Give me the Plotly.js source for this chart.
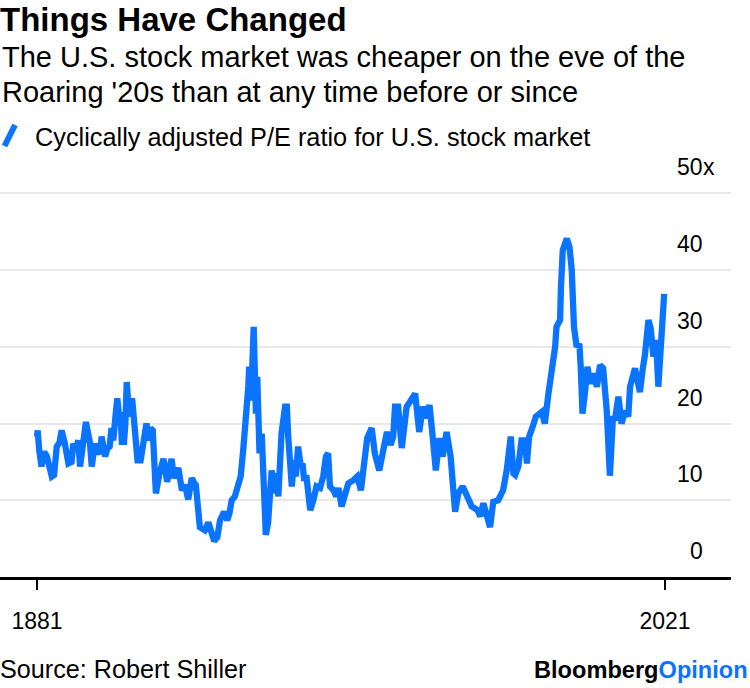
<!DOCTYPE html>
<html>
<head>
<meta charset="utf-8">
<script src="https://cdn.plot.ly/plotly-3.0.1.min.js"></script>
<style>
  html, body { margin: 0; padding: 0; background: #fff; }
  #chart { width: 750px; height: 688px; }
</style>
</head>
<body>
<div id="chart"></div>
<script>
// ---- Data ----
const years = [
  1881.0, 1881.15, 1881.5, 1882.0, 1882.3, 1882.6, 1883.2, 1883.7, 1884.3, 1884.8,
  1885.4, 1886.0, 1886.5, 1887.2, 1887.6, 1888.0, 1888.7, 1889.1, 1889.6, 1890.2,
  1890.6, 1891.3, 1891.9, 1892.4, 1892.8, 1893.2, 1893.9, 1894.3, 1894.7, 1895.0,
  1895.4, 1895.8, 1896.2, 1896.7, 1897.2, 1897.6, 1898.0, 1898.5, 1898.9, 1899.3,
  1899.6, 1899.9, 1900.4, 1900.7, 1901.0, 1901.3, 1901.6, 1902.2, 1902.8, 1903.4,
  1904.1, 1904.7, 1905.4, 1906.0, 1906.3, 1906.8, 1907.5, 1908.3, 1909.2, 1910.0,
  1911.0, 1911.5, 1912.0, 1912.5, 1913.3, 1914.0, 1914.7, 1915.5, 1916.0, 1916.4,
  1917.3, 1918.4, 1919.2, 1919.6, 1920.0, 1920.5, 1921.2, 1921.8, 1922.7, 1923.4,
  1923.9, 1924.4, 1925.1, 1925.6, 1926.0, 1926.4, 1927.0, 1927.7, 1928.1, 1928.3,
  1928.6, 1928.9, 1929.3, 1929.5, 1929.8, 1930.1, 1930.6, 1931.1, 1931.5, 1932.0,
  1932.5, 1932.9, 1933.3, 1933.8, 1934.3, 1934.8, 1935.2, 1935.5, 1936.3, 1936.7,
  1937.0, 1937.8, 1938.3, 1938.7, 1939.2, 1939.8, 1940.2, 1940.5, 1941.1, 1941.9,
  1942.6, 1943.3, 1944.1, 1944.8, 1945.4, 1945.9, 1946.3, 1947.1, 1947.7, 1948.2,
  1948.9, 1949.7, 1950.4, 1951.5, 1952.4, 1953.2, 1953.9, 1954.6, 1955.6, 1956.3,
  1957.3, 1958.1, 1959.0, 1959.8, 1960.4, 1960.8, 1961.5, 1962.3, 1963.4, 1964.1,
  1965.3, 1966.2, 1967.0, 1967.7, 1968.5, 1969.2, 1969.9, 1970.7, 1971.4, 1972.3,
  1973.2, 1974.2, 1974.9, 1975.9, 1976.8, 1977.9, 1979.2, 1979.8, 1980.5, 1981.2,
  1982.0, 1982.7, 1983.8, 1984.9, 1985.7, 1986.6, 1987.2, 1987.6, 1988.3, 1989.0,
  1989.8, 1990.2, 1990.7, 1991.5, 1992.2, 1993.5, 1994.2, 1995.0, 1995.5, 1996.2,
  1996.5, 1996.8, 1997.6, 1997.8, 1998.2, 1999.1, 1999.7, 2000.2, 2000.7, 2001.3,
  2001.9, 2002.2, 2002.6, 2003.2, 2003.7, 2004.3, 2005.0, 2005.8, 2006.5, 2007.2,
  2008.0, 2008.7, 2009.4, 2009.8, 2010.6, 2011.3, 2012.1, 2012.8, 2013.2, 2014.3,
  2014.8, 2015.4, 2016.0, 2016.5, 2017.3, 2017.8, 2018.4, 2019.0, 2019.5, 2019.9,
  2020.3, 2020.8
];
const cape = [
  18.3, 19.1, 16.5, 14.4, 15.8, 16.3, 15.7, 14.5, 13.1, 13.3,
  17.0, 17.5, 19.1, 17.4, 16.0, 14.8, 15.0, 17.4, 16.5, 17.8,
  14.4, 17.4, 20.2, 18.7, 17.5, 14.4, 17.4, 16.0, 16.5, 16.0,
  18.3, 17.0, 15.7, 16.8, 17.0, 19.4, 17.8, 21.0, 23.3, 20.9,
  21.5, 17.6, 17.6, 20.0, 25.4, 23.0, 20.9, 23.3, 20.0, 15.2,
  15.2, 17.8, 20.0, 17.8, 19.4, 19.1, 10.9, 13.5, 15.4, 12.4,
  15.4, 12.9, 13.5, 14.2, 11.3, 12.0, 10.1, 12.9, 12.3, 12.0,
  6.5, 6.1, 7.1, 6.1, 5.6, 4.7, 5.2, 7.4, 8.5, 7.4,
  8.3, 10.0, 10.5, 11.6, 12.2, 13.1, 16.8, 20.9, 24.8, 27.4,
  23.0, 26.0, 32.6, 28.0, 21.3, 26.1, 16.1, 18.7, 13.0, 5.5,
  7.0, 9.5, 13.9, 10.9, 13.5, 10.5, 14.0, 18.7, 22.2, 22.2,
  18.3, 11.8, 15.2, 13.1, 17.0, 14.4, 14.8, 12.9, 12.9, 8.7,
  10.0, 11.8, 11.6, 13.1, 15.7, 16.1, 11.8, 11.3, 10.5, 11.6,
  9.2, 10.9, 12.2, 12.6, 13.1, 11.3, 15.2, 18.1, 19.4, 16.1,
  13.9, 16.1, 18.9, 17.2, 18.3, 22.2, 22.2, 16.8, 22.2, 22.8,
  23.9, 18.9, 22.2, 20.7, 22.4, 18.3, 13.9, 18.1, 15.7, 18.9,
  15.7, 8.5, 10.9, 11.8, 10.5, 9.2, 8.7, 7.9, 9.6, 7.9,
  6.5, 9.8, 10.0, 11.3, 13.9, 18.3, 13.5, 13.3, 14.4, 17.8,
  17.8, 14.8, 18.3, 19.6, 20.9, 21.5, 20.0, 23.9, 26.1, 27.8,
  30.0, 32.6, 33.5, 37.8, 42.6, 44.1, 43.0, 40.0, 32.6, 30.0,
  30.4, 27.4, 21.3, 24.3, 27.4, 25.2, 26.5, 24.8, 27.6, 27.2,
  21.7, 13.2, 21.0, 20.4, 23.5, 20.0, 21.7, 20.9, 24.8, 27.2,
  25.6, 24.1, 27.0, 28.9, 33.5, 32.4, 28.7, 30.9, 24.8, 29.1,
  33.0, 36.9
];
const xTickVals = [1881, 2021];
const xTickText = ['1881', '2021'];
const yTickVals = [0, 10, 20, 30, 40, 50];
const yTickText = ['0', '10', '20', '30', '40', '50'];
const ySuffix = 'x';
const seriesName = 'Cyclically adjusted P/E ratio for U.S. stock market';
const titleText = 'Things Have Changed';
const subtitleLines = [
  'The U.S. stock market was cheaper on the eve of the',
  "Roaring '20s than at any time before or since"
];
const sourceText = 'Source: Robert Shiller';

// ---- Layout geometry ----
const W = 750, H = 688;
const M = { l: 0, r: 19, t: 178, b: 111 };
const plotW = W - M.l - M.r;   // 731
const plotH = H - M.t - M.b;   // 399
const px = v => (v - M.l) / plotW;
const py = v => (H - M.b - v) / plotH;
const BLUE = '#0a74ff';
const FONT = "'Liberation Sans', Arial, Helvetica, sans-serif";

const annotations = [];
// subtitle lines
annotations.push({ text: subtitleLines[0], xref: 'paper', yref: 'paper', x: px(0), y: py(57),
  xanchor: 'left', yanchor: 'middle', showarrow: false, font: { size: 29, color: '#000' } });
annotations.push({ text: subtitleLines[1], xref: 'paper', yref: 'paper', x: px(0), y: py(92),
  xanchor: 'left', yanchor: 'middle', showarrow: false, font: { size: 29, color: '#000' } });
// legend label
annotations.push({ text: seriesName, xref: 'paper', yref: 'paper', x: px(33), y: py(137),
  xanchor: 'left', yanchor: 'middle', showarrow: false, font: { size: 25.3, color: '#000' } });
// y tick labels above gridlines
yTickVals.forEach((v, i) => {
  annotations.push({ text: yTickText[i], xref: 'paper', yref: 'y', x: px(705), y: v,
    xanchor: 'right', yanchor: 'middle', yshift: 26, showarrow: false,
    font: { size: 23, color: '#000' } });
});
annotations.push({ text: ySuffix, xref: 'paper', yref: 'y', x: px(701), y: yTickVals[yTickVals.length - 1],
  xanchor: 'left', yanchor: 'middle', yshift: 26, showarrow: false,
  font: { size: 23, color: '#000' } });
// source
annotations.push({ text: sourceText, xref: 'paper', yref: 'paper', x: px(-2), y: py(669),
  xanchor: 'left', yanchor: 'middle', showarrow: false, font: { size: 25.2, color: '#000' } });
// logo
annotations.push({ text: '<b>Bloomberg</b><b><span style="color:' + BLUE + '">Opinion</span></b>',
  xref: 'paper', yref: 'paper', x: px(750), y: py(670),
  xanchor: 'right', yanchor: 'middle', showarrow: false, font: { size: 23.6, color: '#000' } });

const trace = {
  type: 'scatter', mode: 'lines', x: years, y: cape, name: seriesName,
  line: { color: BLUE, width: 6.3 }, hoverinfo: 'skip', cliponaxis: false
};

const layout = {
  width: W, height: H,
  margin: { l: M.l, r: M.r, t: M.t, b: M.b, pad: 0 },
  paper_bgcolor: '#fff', plot_bgcolor: '#fff',
  font: { family: FONT, color: '#000' },
  showlegend: false,
  title: { text: '<b>' + titleText + '</b>', x: 0, xref: 'container', xanchor: 'left',
    y: 1 - 19 / H, yref: 'container', yanchor: 'middle', pad: { l: 0, r: 0, t: 0, b: 0 },
    font: { size: 33, color: '#000', family: FONT } },
  xaxis: {
    range: [1872.75, 2035.7], tickvals: xTickVals, ticktext: xTickText,
    ticks: 'outside', ticklen: 10, tickwidth: 2, tickcolor: '#000',
    showline: true, linecolor: '#000', linewidth: 2.5, showgrid: false, zeroline: false,
    tickfont: { size: 23, color: '#000' }, ticklabelstandoff: 12, fixedrange: true
  },
  yaxis: {
    range: [0, 52], tickvals: yTickVals, showticklabels: false, ticks: '',
    showgrid: true, gridcolor: '#e8e8e8', gridwidth: 2, zeroline: false, showline: false,
    fixedrange: true
  },
  shapes: [{
    type: 'line', xref: 'paper', yref: 'paper',
    x0: px(4.5), y0: py(146), x1: px(15), y1: py(125),
    line: { color: BLUE, width: 6 }
  }],
  annotations: annotations
};

Plotly.newPlot('chart', [trace], layout, { displayModeBar: false, staticPlot: true });
</script>
</body>
</html>
